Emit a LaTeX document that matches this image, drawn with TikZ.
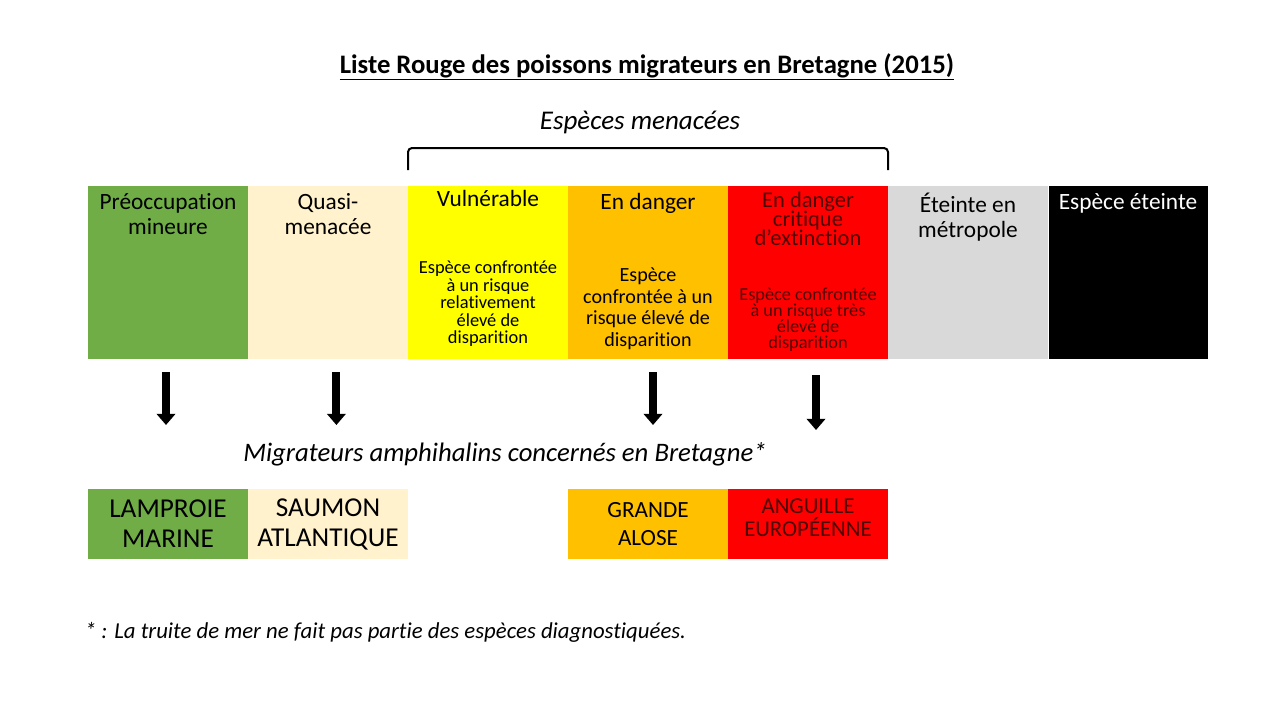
\documentclass[tikz,border=0pt]{standalone}
\usepackage{fontspec}
\setmainfont[Ligatures={NoCommon}]{Carlito}
\usetikzlibrary{arrows.meta,positioning,calc}
\usepackage{xcolor}
\definecolor{lcgreen}{RGB}{112, 173, 71}
\definecolor{ntbeige}{RGB}{255, 242, 204}
\definecolor{vuyellow}{RGB}{255, 255, 0}
\definecolor{enorange}{RGB}{255, 192, 0}
\definecolor{crred}{RGB}{255, 0, 0}
\definecolor{rextgrey}{RGB}{217, 217, 217}
\definecolor{crtext}{RGB}{80, 5, 5}
\newcommand{\tightlines}{\lineskiplimit=-20pt\relax}

\tikzset{
  catbox/.style={minimum width=4cm, minimum height=4.325cm, inner sep=0pt, outer sep=0pt},
  fishbox/.style={minimum width=4cm, minimum height=1.75cm, inner sep=0pt, outer sep=0pt, align=center, font=\fontsize{19.4}{21.3}\selectfont},
  cattitle/.style={anchor=north, align=center, inner sep=0pt, font=\fontsize{16.6}{17.8}\selectfont},
  catdesc/.style={align=center, inner sep=0pt},
  bigarrow/.style={line width=0.2cm, -{Triangle[length=0.28cm, width=0.46cm]}}
}

\begin{document}
\begin{tikzpicture}
        \useasboundingbox (0,0) rectangle (32,-18);
        % Title
        \node[font=\fontsize{19}{22}\selectfont\bfseries] (title) at (16.175,-1.675) {\underline{Liste Rouge des poissons migrateurs en Bretagne (2015)}};
        % Categories of the red list
        \node[catbox, fill=lcgreen, anchor=north west] (lc) at (2.2,-4.65) {};
        \node[catbox, fill=ntbeige, right=0cm of lc] (nt) {};
        \node[catbox, fill=vuyellow, right=0cm of nt] (vu) {};
        \node[catbox, fill=enorange, right=0cm of vu] (en) {};
        \node[catbox, fill=crred, right=0cm of en] (cr) {};
        \node[catbox, fill=rextgrey, right=0cm of cr] (rex) {};
        \node[catbox, fill=black, right=0cm of rex] (ex) {};
        \draw[white, line width=0.6pt] (rex.north east) -- (rex.south east);
        % Category titles
        \node[cattitle] (lctitle) at ([yshift=-0.17cm]lc.north) {Préoccupation\\mineure};
        \node[cattitle] (nttitle) at ([yshift=-0.17cm]nt.north) {Quasi-\\menacée};
        \node[cattitle] (vutitle) at ([yshift=-0.1cm]vu.north) {Vulnérable};
        \node[cattitle] (entitle) at ([yshift=-0.17cm]en.north) {En danger};
        \node[cattitle, text=crtext, font={\fontsize{16}{13.4}\selectfont\tightlines}] (crtitle) at ([yshift=-0.14cm]cr.north) {En danger\\critique\\d’extinction};
        \node[cattitle] (rextitle) at ([yshift=-0.17cm]rex.north) {Éteinte en\\métropole};
        \node[cattitle, text=white] (extitle) at ([yshift=-0.17cm]ex.north) {Espèce éteinte};
        % Category descriptions
        \node[catdesc, font=\fontsize{13.1}{12.4}\selectfont] (vudesc) at (12.2,-7.6) {Espèce confrontée\\à un risque\\relativement\\élevé de\\disparition};
        \node[catdesc, font=\fontsize{14.3}{15.3}\selectfont] (endesc) at (16.2,-7.72) {Espèce\\confrontée à un\\risque élevé de\\disparition};
        \node[catdesc, text=crtext, font={\fontsize{13}{11.4}\selectfont\tightlines}] (crdesc) at (20.2,-8.0) {Espèce confrontée\\à un risque très\\élevé de\\disparition};
        % Threatened species bracket
        \draw[line width=0.05cm, rounded corners=0.1cm] ([yshift=0.4cm]vu.north west) -- ++(0,0.55) -| ([yshift=0.4cm]cr.north east);
        \node[font=\fontsize{19.2}{22}\selectfont\itshape] (menacees) at (16,-3.05) {Espèces menacées};
        % Migratory fish in Brittany
        \node[font=\fontsize{19}{22}\selectfont\itshape] (migrateurs) at (12.625,-11.35) {Migrateurs amphihalins concernés en Bretagne*};
        \node[fishbox, fill=lcgreen, below=3.25cm of lc] (lamproie) {LAMPROIE\\MARINE};
        \node[fishbox, fill=ntbeige, below=3.25cm of nt] (saumon) {SAUMON\\ATLANTIQUE};
        \node[fishbox, fill=enorange, font=\fontsize{16.5}{20}\selectfont, below=3.25cm of en] (alose) {GRANDE\\ALOSE};
        \node[fishbox, fill=crred, text=crtext, font=\fontsize{16.2}{16.4}\selectfont, below=3.25cm of cr, text depth=0.3cm] (anguille) {ANGUILLE\\EUROPÉENNE};
        % Arrows from categories to species
        \draw[bigarrow, shorten <=0.325cm, shorten >=1.6cm] ([xshift=-0.05cm]lc.south) -- ([xshift=-0.05cm]lamproie.north);
        \draw[bigarrow, shorten <=0.325cm, shorten >=1.6cm] ([xshift=0.21cm]nt.south) -- ([xshift=0.21cm]saumon.north);
        \draw[bigarrow, shorten <=0.325cm, shorten >=1.6cm] ([xshift=0.125cm]en.south) -- ([xshift=0.125cm]alose.north);
        \draw[bigarrow, shorten <=0.4cm, shorten >=1.475cm] ([xshift=0.2cm]cr.south) -- ([xshift=0.2cm]anguille.north);
        % Footnote
        \node[anchor=west, font=\fontsize{16.2}{18}\selectfont\itshape] (note) at (2.0,-15.8) {* : La truite de mer ne fait pas partie des espèces diagnostiquées.};
    \end{tikzpicture}
\end{document}
